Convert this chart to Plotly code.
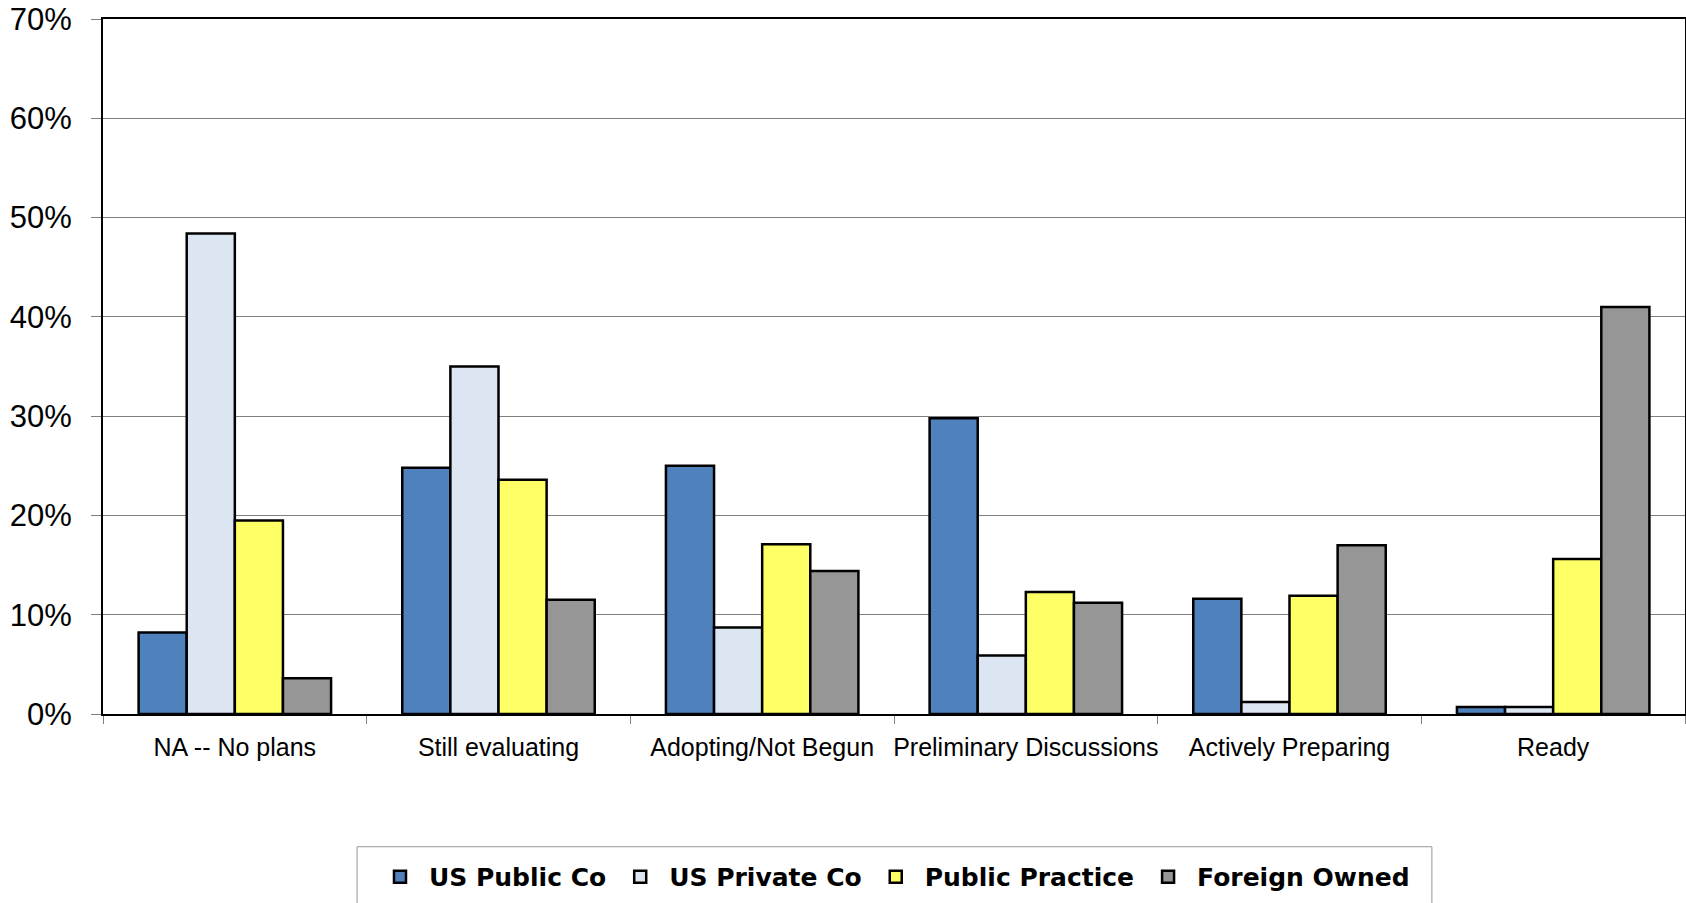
import plotly.graph_objects as go

categories = ["NA -- No plans", "Still evaluating", "Adopting/Not Begun",
              "Preliminary Discussions", "Actively Preparing", "Ready"]
series_names = ["US Public Co", "US Private Co", "Public Practice", "Foreign Owned"]
us_public = [8.2, 24.8, 25.0, 29.8, 11.6, 0.7]
us_private = [48.4, 35.0, 8.7, 5.9, 1.2, 0.7]
public_practice = [19.5, 23.6, 17.1, 12.3, 11.9, 15.6]
foreign_owned = [3.6, 11.5, 14.4, 11.2, 17.0, 41.0]
colors = ["#4F81BD", "#DCE6F2", "#FFFF66", "#969696"]
y_ticks = [0, 10, 20, 30, 40, 50, 60, 70]

fig = go.Figure()
for name, vals, col in zip(series_names,
                           [us_public, us_private, public_practice, foreign_owned],
                           colors):
    fig.add_trace(go.Bar(
        x=categories, y=[v / 100 for v in vals], name=name,
        marker=dict(color=col, line=dict(color="black", width=2.5)),
    ))

fig.update_layout(
    width=1686, height=903, autosize=False,
    margin=dict(l=103, r=1, t=19, b=189, pad=0, autoexpand=False),
    paper_bgcolor="white", plot_bgcolor="white",
    barmode="group", bargap=0.27, bargroupgap=0,
    font=dict(family="Liberation Sans, Arial, sans-serif", color="black"),
    showlegend=True,
    legend=dict(orientation="h", x=0.1694, xanchor="left", y=-0.2345, yanchor="middle",
                itemwidth=48,
                font=dict(family="DejaVu Sans, Verdana, sans-serif", size=25,
                          weight="bold", color="black"),
                bgcolor="rgba(0,0,0,0)", borderwidth=0, traceorder="normal"),
    shapes=[dict(type="rect", xref="paper", yref="paper",
                 x0=0.1606, x1=0.840, y0=-0.191, y1=-0.42,
                 line=dict(color="#999999", width=1), fillcolor="rgba(0,0,0,0)")],
)
fig.update_yaxes(
    range=[0, 0.7], tickvals=[t / 100 for t in y_ticks],
    ticktext=[f"{t}%" for t in y_ticks], automargin=False,
    ticklabeloverflow="allow",
    showgrid=True, gridcolor="#808080", gridwidth=1, zeroline=False,
    showline=True, linecolor="black", linewidth=2, mirror=True,
    ticks="outside", ticklen=10, tickcolor="#808080", tickwidth=1,
    tickfont=dict(size=31), ticklabelstandoff=13,
)
fig.update_xaxes(
    showgrid=False, showline=True, linecolor="black", linewidth=2, mirror=True,
    ticks="outside", tickson="boundaries", ticklen=8, tickcolor="#808080", tickwidth=1,
    tickfont=dict(size=25), ticklabelstandoff=10, tickangle=0, automargin=False,
)

fig.write_html("out.html", config={"displayModeBar": False},
               post_script="document.body.style.margin='0';document.body.style.overflow='hidden';")
